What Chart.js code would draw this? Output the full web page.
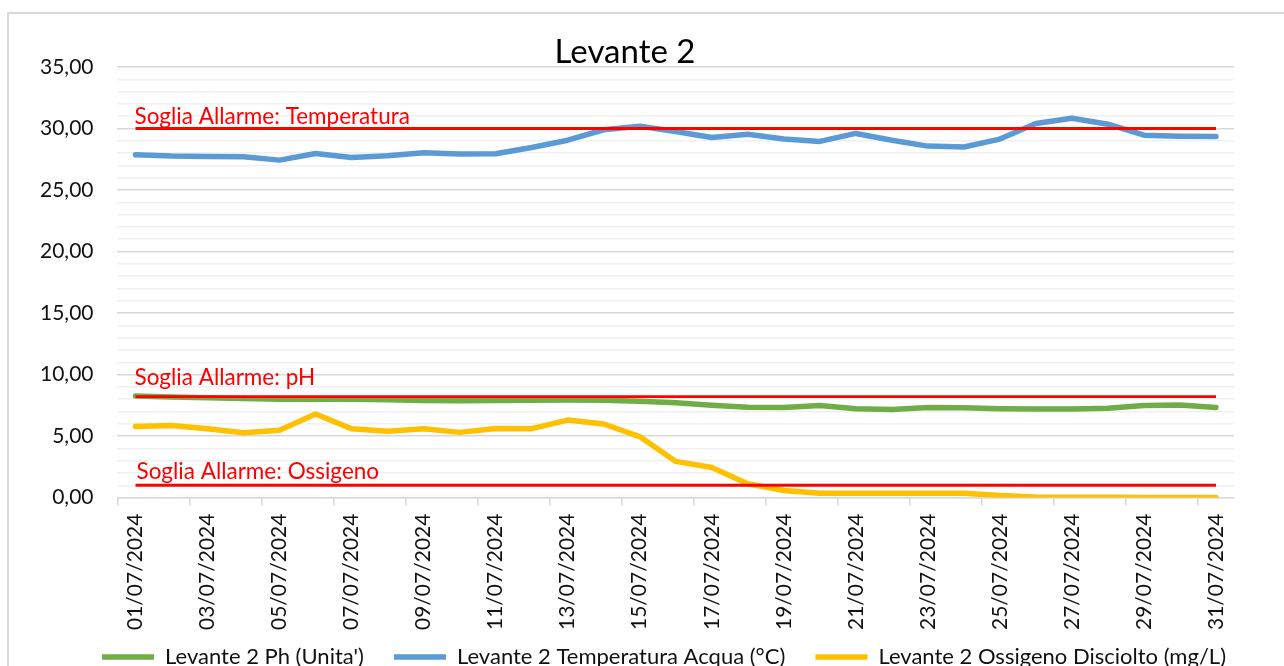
<!DOCTYPE html>
<html>
<head>
<meta charset="utf-8">
<title>Levante 2</title>
<script src="https://cdn.jsdelivr.net/npm/chart.js@4.4.1/dist/chart.umd.min.js"></script>
<style>
  html, body { margin: 0; padding: 0; background: #fff; overflow: hidden; }
  .frame {
    position: absolute; left: 7px; top: 12px;
    width: 1400px; height: 800px;
    border: 2px solid #d9d9d9;
  }
  .wrap { position: absolute; left: 0; top: 0; width: 1284px; height: 678px; }
</style>
</head>
<body>
<div class="frame"></div>
<div class="wrap"><canvas id="chart"></canvas></div>
<script>
const dates = [
  '01/07/2024', '02/07/2024', '03/07/2024', '04/07/2024', '05/07/2024', '06/07/2024',
  '07/07/2024', '08/07/2024', '09/07/2024', '10/07/2024', '11/07/2024', '12/07/2024',
  '13/07/2024', '14/07/2024', '15/07/2024', '16/07/2024', '17/07/2024', '18/07/2024',
  '19/07/2024', '20/07/2024', '21/07/2024', '22/07/2024', '23/07/2024', '24/07/2024',
  '25/07/2024', '26/07/2024', '27/07/2024', '28/07/2024', '29/07/2024', '30/07/2024',
  '31/07/2024'
];

const ph = [8.25, 8.18, 8.12, 8.06, 8.0, 8.0, 8.0, 7.96, 7.9, 7.88, 7.9, 7.92, 7.93, 7.92, 7.84, 7.7,
  7.51, 7.35, 7.32, 7.48, 7.22, 7.15, 7.32, 7.3, 7.22, 7.19, 7.19, 7.27, 7.48, 7.52, 7.33];

const temperatura = [27.86, 27.76, 27.73, 27.7, 27.43, 27.97, 27.65, 27.78, 28.03, 27.93, 27.95, 28.46,
  29.05, 29.9, 30.19, 29.76, 29.27, 29.54, 29.14, 28.95, 29.6, 29.05, 28.57, 28.5, 29.14, 30.4,
  30.84, 30.35, 29.46, 29.38, 29.35];

const ossigeno = [5.78, 5.86, 5.59, 5.27, 5.48, 6.8, 5.59, 5.4, 5.6, 5.3, 5.62, 5.6, 6.3, 5.98, 4.96,
  2.94, 2.45, 1.12, 0.57, 0.35, 0.35, 0.35, 0.35, 0.35, 0.16, 0.04, 0.02, 0.02, 0.01, 0.01, 0.01];

const seriesNames = ["Levante 2 Ph (Unita')", 'Levante 2 Temperatura Acqua (°C)', 'Levante 2 Ossigeno Disciolto (mg/L)'];

const sogliaTemperatura = 30;
const sogliaPh = 8.2;
const sogliaOssigeno = 1;
const soglieLabels = ['Soglia Allarme: Temperatura', 'Soglia Allarme: pH', 'Soglia Allarme: Ossigeno'];

const yTicks = [0, 5, 10, 15, 20, 25, 30, 35];

const FONT = 'Lato';
const fmt = v => v.toFixed(2).replace('.', ',');

// threshold line goes from the first to the last day
function soglia(value) {
  return [{ x: dates[0], y: value }, { x: dates[dates.length - 1], y: value }];
}

const thresholdStyle = {
  borderColor: '#ff0000',
  borderWidth: 2.8,
  pointRadius: 0,
  fill: false,
  order: 0,
};

const labelOffsets = [5, 12, 6];
const labelDx = [-1, -1, 1];

const sogliaLabelPlugin = {
  id: 'sogliaLabels',
  afterDatasetsDraw(chart) {
    const { ctx, scales: { x, y } } = chart;
    const vals = [sogliaTemperatura, sogliaPh, sogliaOssigeno];
    ctx.save();
    ctx.font = '22.5px ' + FONT;
    ctx.fillStyle = '#ff0000';
    ctx.textAlign = 'left';
    ctx.textBaseline = 'alphabetic';
    vals.forEach((v, i) => {
      ctx.fillText(soglieLabels[i], x.getPixelForValue(0) + labelDx[i], y.getPixelForValue(v) - labelOffsets[i]);
    });
    ctx.restore();
  }
};

const lineStyle = {
  borderWidth: 5.5,
  pointRadius: 0,
  tension: 0,
  fill: false,
  borderCapStyle: 'round',
  borderJoinStyle: 'round',
  order: 1,
};

new Chart(document.getElementById('chart'), {
  type: 'line',
  data: {
    labels: dates,
    datasets: [
      { ...lineStyle, label: seriesNames[0], data: ph, borderColor: '#70ad47', backgroundColor: '#70ad47' },
      { ...lineStyle, label: seriesNames[1], data: temperatura, borderColor: '#5b9bd5', backgroundColor: '#5b9bd5' },
      { ...lineStyle, label: seriesNames[2], data: ossigeno, borderColor: '#ffc000', backgroundColor: '#ffc000' },
      { ...thresholdStyle, label: soglieLabels[0], data: soglia(sogliaTemperatura) },
      { ...thresholdStyle, label: soglieLabels[1], data: soglia(sogliaPh) },
      { ...thresholdStyle, label: soglieLabels[2], data: soglia(sogliaOssigeno) },
    ],
  },
  options: {
    responsive: true,
    maintainAspectRatio: false,
    animation: false,
    layout: { padding: { left: 16, right: 50, top: 0, bottom: 0 } },
    scales: {
      x: {
        offset: true,
        grid: {
          offset: true,
          drawOnChartArea: false,
          drawTicks: true,
          tickLength: 8,
          lineWidth: 1.5,
          color: ctx => (ctx.index % 2 === 0 ? '#d9d9d9' : 'rgba(0,0,0,0)'),
        },
        border: { display: true, color: '#d9d9d9', width: 1.5 },
        ticks: {
          autoSkip: false,
          minRotation: 90,
          maxRotation: 90,
          padding: 8,
          color: '#111',
          font: { family: FONT, size: 21 },
          callback: (v, i) => (i % 2 === 0 ? dates[i] : ''),
        },
      },
      y: {
        min: yTicks[0],
        max: yTicks[yTicks.length - 1],
        grid: {
          drawTicks: false,
          lineWidth: 1.5,
          color: ctx => (yTicks.includes(ctx.tick.value) ? '#d9d9d9' : '#f0f0f0'),
        },
        border: { display: false },
        ticks: {
          stepSize: 1,
          autoSkip: false,
          maxTicksLimit: 100,
          padding: 24,
          color: '#111',
          font: { family: FONT, size: 21 },
          callback: v => (yTicks.includes(v) ? fmt(v) : ''),
        },
      },
    },
    plugins: {
      title: {
        display: true,
        text: 'Levante 2',
        color: '#000',
        font: { family: FONT, size: 33, weight: 'normal', lineHeight: 1 },
        padding: { top: 36, bottom: -2 },
      },
      legend: {
        position: 'bottom',
        align: 'end',
        labels: {
          usePointStyle: true,
          pointStyle: 'line',
          pointStyleWidth: 52,
          padding: 8,
          color: '#111',
          font: { family: FONT, size: 22 },
          // only the three measured series; spaces widen the gap between entries
          generateLabels: chart => Chart.defaults.plugins.legend.labels.generateLabels(chart)
            .filter(item => item.datasetIndex < 3)
            .map(item => ({ ...item, text: item.datasetIndex < 2 ? item.text + '\u2003 ' : item.text })),
        },
      },
      tooltip: { enabled: false },
    },
  },
  plugins: [sogliaLabelPlugin],
});
</script>
</body>
</html>
